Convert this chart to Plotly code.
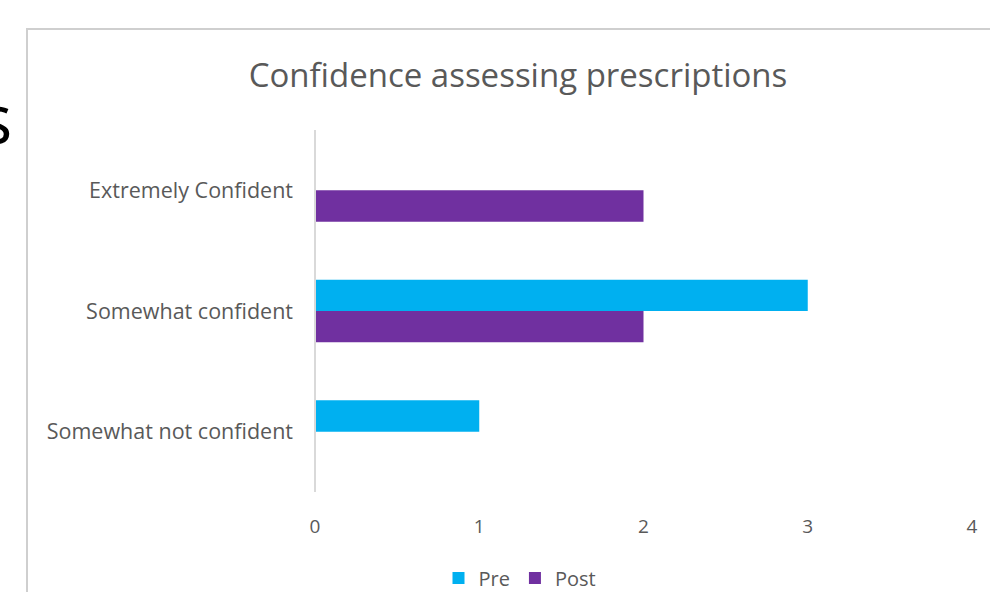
import plotly.graph_objects as go

categories = ["Somewhat not confident", "Somewhat confident", "Extremely Confident"]
pre_values = [1, 3, 0]
post_values = [0, 2, 2]
x_ticks = [0, 1, 2, 3, 4]

W, H = 990, 592
L, R, T, B = 315, 972, 130, 492

def px(x):
    return (x - L) / (R - L)

def py(y):
    return (B - y) / (B - T)

FONT = "'Open Sans', Lato, sans-serif"
GRAY = "#595959"

fig = go.Figure()
fig.add_trace(go.Bar(y=categories, x=post_values, orientation="h", name="Post",
                     marker=dict(color="#7030A0", line=dict(width=0))))
fig.add_trace(go.Bar(y=categories, x=pre_values, orientation="h", name="Pre",
                     marker=dict(color="#00B0F0", line=dict(width=0))))

fig.update_layout(
    width=W, height=H,
    margin=dict(l=L, r=W - R, t=T, b=H - B, autoexpand=False),
    paper_bgcolor="white", plot_bgcolor="white",
    barmode="group", bargap=0.48, bargroupgap=0,
    font=dict(family=FONT, color=GRAY),
    title=dict(text="Confidence assessing prescriptions",
               x=((250 + 786) / 2) / W, xanchor="center",
               y=1 - 75 / H, yanchor="middle",
               font=dict(size=33, color=GRAY, family=FONT)),
    xaxis=dict(range=[0, 4], tickvals=x_ticks, showgrid=False, zeroline=False,
               showline=False, ticks="", tickfont=dict(size=19, color=GRAY, family=FONT),
               ticklabelstandoff=21),
    yaxis=dict(categoryorder="array", categoryarray=categories, showgrid=False,
               zeroline=False, showline=False, ticks="",
               tickfont=dict(size=21.5, color=GRAY, family=FONT), ticklabelstandoff=21),
    legend=dict(orientation="h", traceorder="reversed", x=px(520), xanchor="center",
                y=py(578), yanchor="middle", font=dict(size=20, color=GRAY, family=FONT),
                itemwidth=30, itemsizing="constant", bgcolor="rgba(0,0,0,0)"),
    showlegend=True,
    shapes=[
        dict(type="line", xref="paper", yref="paper", x0=0, x1=0, y0=0, y1=1,
             line=dict(color="#D9D9D9", width=2)),
        dict(type="rect", xref="paper", yref="paper", x0=px(27), x1=px(1005), y0=py(610), y1=py(29),
             line=dict(color="#CFCFCF", width=2), layer="below"),
    ],
    annotations=[
        dict(text="s", xref="paper", yref="paper", x=px(-5), y=py(117), xanchor="center",
             yanchor="middle", showarrow=False,
             font=dict(size=70, color="black", family="'Open Sans', sans-serif")),
    ],
)

fig.write_html("out.html", config={"displayModeBar": False},
               post_script="document.body.style.margin='0';document.body.style.overflow='hidden';")
